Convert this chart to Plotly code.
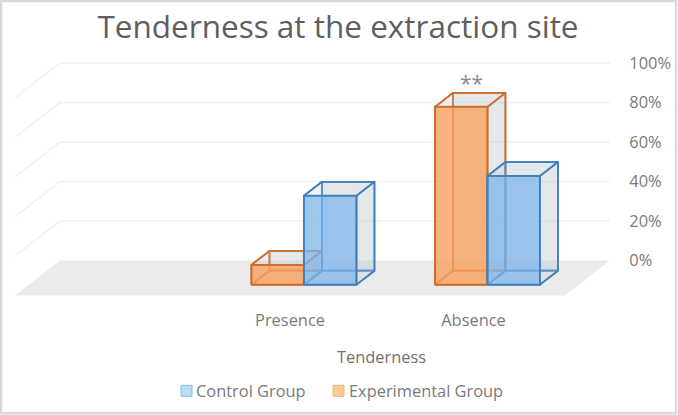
import plotly.graph_objects as go

categories = ["Presence", "Absence"]
control_group = [45, 55]
experimental_group = [10, 90]
tick_values = [0, 20, 40, 60, 80, 100]
tick_labels = ["0%", "20%", "40%", "60%", "80%", "100%"]

W, H = 678, 415
L, R = 15, 610
X_PER_CAT = 183.5
Y_PX = 1.98
Y0_PX = 261
DEPTH_X = 45 / X_PER_CAT
DEPTH_Y = 35 / Y_PX
BAR_W = 52.5 / X_PER_CAT
D0, D1 = 0.31, 0.71
xmin = (L - 290) / X_PER_CAT
xmax = (R - 290) / X_PER_CAT
ytop, ybot = 53.0, 300.5
ymax = (Y0_PX - ytop) / Y_PX
ymin = (Y0_PX - ybot) / Y_PX


def proj(c, v, d):
    return c + DEPTH_X * d, v - DEPTH_Y * (1 - d)


def poly(points, fill, line, width=1.7):
    pts = [proj(*p) for p in points]
    pts.append(pts[0])
    return go.Scatter(
        x=[p[0] for p in pts], y=[p[1] for p in pts], mode="lines",
        fill="toself", fillcolor=fill,
        line=dict(color=line, width=width),
        hoverinfo="skip", showlegend=False, cliponaxis=False,
    )


fig = go.Figure()

# floor and gridlines
FLOOR = "#ebebeb"
floor_w = (R - L - 45) / X_PER_CAT
fig.add_trace(poly([(xmin, 0, 0), (xmin + floor_w, 0, 0), (xmin + floor_w, 0, 1), (xmin, 0, 1)],
                   FLOOR, "rgba(0,0,0,0)", 0))
for v in tick_values[1:]:
    a = proj(xmin, v, 0)
    b = proj(xmin, v, 1)
    c = (xmax, b[1])
    fig.add_trace(go.Scatter(x=[a[0], b[0], c[0]], y=[a[1], b[1], c[1]], mode="lines",
                             line=dict(color="#f1f1f1", width=1.6), hoverinfo="skip",
                             showlegend=False, cliponaxis=False))

SIDE = "rgba(190,200,210,0.24)"


def bar3d(c0, value, front, edge):
    c1 = c0 + BAR_W
    fig.add_trace(poly([(c0, 0, D1), (c1, 0, D1), (c1, value, D1), (c0, value, D1)], SIDE, edge))
    fig.add_trace(poly([(c0, 0, D0), (c0, 0, D1), (c0, value, D1), (c0, value, D0)], "rgba(0,0,0,0)", edge))
    fig.add_trace(poly([(c0, 0, D0), (c1, 0, D0), (c1, 0, D1), (c0, 0, D1)], "rgba(0,0,0,0)", edge))
    fig.add_trace(poly([(c1, 0, D0), (c1, 0, D1), (c1, value, D1), (c1, value, D0)], SIDE, edge))
    fig.add_trace(poly([(c0, value, D0), (c1, value, D0), (c1, value, D1), (c0, value, D1)], SIDE, edge))
    fig.add_trace(poly([(c0, 0, D0), (c1, 0, D0), (c1, value, D0), (c0, value, D0)], front, edge, 2.0))


for i in range(len(categories)):
    bar3d(i - BAR_W, experimental_group[i], "rgba(248,160,95,0.80)", "#cf6c2e")
    bar3d(i, control_group[i], "rgba(125,180,235,0.75)", "#4480bc")

# legend entries (glyphs drawn as small squares next to the text)
fig.add_trace(go.Scatter(x=[None], y=[None], mode="markers", name="Control Group", legend="legend",
                         marker=dict(symbol="square", size=10, color="rgba(0,0,0,0)")))
fig.add_trace(go.Scatter(x=[None], y=[None], mode="markers", name="Experimental Group", legend="legend2",
                         marker=dict(symbol="square", size=10, color="rgba(0,0,0,0)")))

pw = R - L
ph = ybot - ytop


def px(x):
    return (x - L) / pw


def py(y):
    return (ybot - y) / ph


shapes = [
    dict(type="rect", xref="paper", yref="paper", x0=px(1), x1=px(W - 2), y0=py(1), y1=py(H - 1),
         line=dict(color="#d9d9d9", width=2.5), fillcolor="rgba(0,0,0,0)", layer="below"),
    dict(type="rect", xref="paper", yref="paper", x0=px(181), x1=px(192), y0=py(386), y1=py(397),
         line=dict(color="#7cc0ea", width=1), fillcolor="#b4dff7"),
    dict(type="rect", xref="paper", yref="paper", x0=px(333), x1=px(344), y0=py(386), y1=py(397),
         line=dict(color="#f4b26c", width=1), fillcolor="#fbcb96"),
]

annotations = [
    dict(text="Tenderness", xref="paper", yref="paper", x=px(381), y=py(357), showarrow=False,
         xanchor="center", yanchor="middle", font=dict(size=16.4, color="#6f6f6f")),
    dict(text="**", x=1 - BAR_W / 2 + DEPTH_X * 0.5 + 2 / X_PER_CAT, y=(Y0_PX - 83) / Y_PX, showarrow=False,
         font=dict(size=21, color="#8a8a8a")),
]

legend_style = dict(orientation="h", yanchor="middle", xanchor="left", y=py(392),
                    font=dict(size=16.4, color="#7a7a7a"), bgcolor="rgba(0,0,0,0)",
                    itemclick=False, itemdoubleclick=False)

fig.update_layout(
    width=W, height=H, autosize=False,
    margin=dict(l=L, r=W - R, t=ytop, b=H - ybot, pad=0, autoexpand=False),
    paper_bgcolor="white", plot_bgcolor="white",
    font=dict(family="Open Sans", color="#7a7a7a", size=16.4),
    title=dict(text="Tenderness at the extraction site", x=338 / W, xanchor="center",
               y=1 - 27 / H, yanchor="middle", font=dict(size=31.5, color="#5f5f5f")),
    xaxis=dict(range=[xmin, xmax], tickmode="array", tickvals=list(range(len(categories))),
               ticktext=categories, showgrid=False, zeroline=False, showline=False,
               ticks="outside", ticklen=5, tickcolor="rgba(0,0,0,0)"),
    yaxis=dict(range=[ymin, ymax], side="right", tickmode="array", tickvals=tick_values,
               ticktext=tick_labels, showgrid=False, zeroline=False, showline=False,
               ticks="outside", ticklen=15, tickcolor="rgba(0,0,0,0)"),
    showlegend=True,
    legend=dict(x=px(156), **legend_style),
    legend2=dict(x=px(309), **legend_style),
    shapes=shapes, annotations=annotations,
)

fig.write_html("out.html", config={"displayModeBar": False},
               post_script="document.body.style.margin='0';document.body.style.overflow='hidden';")
